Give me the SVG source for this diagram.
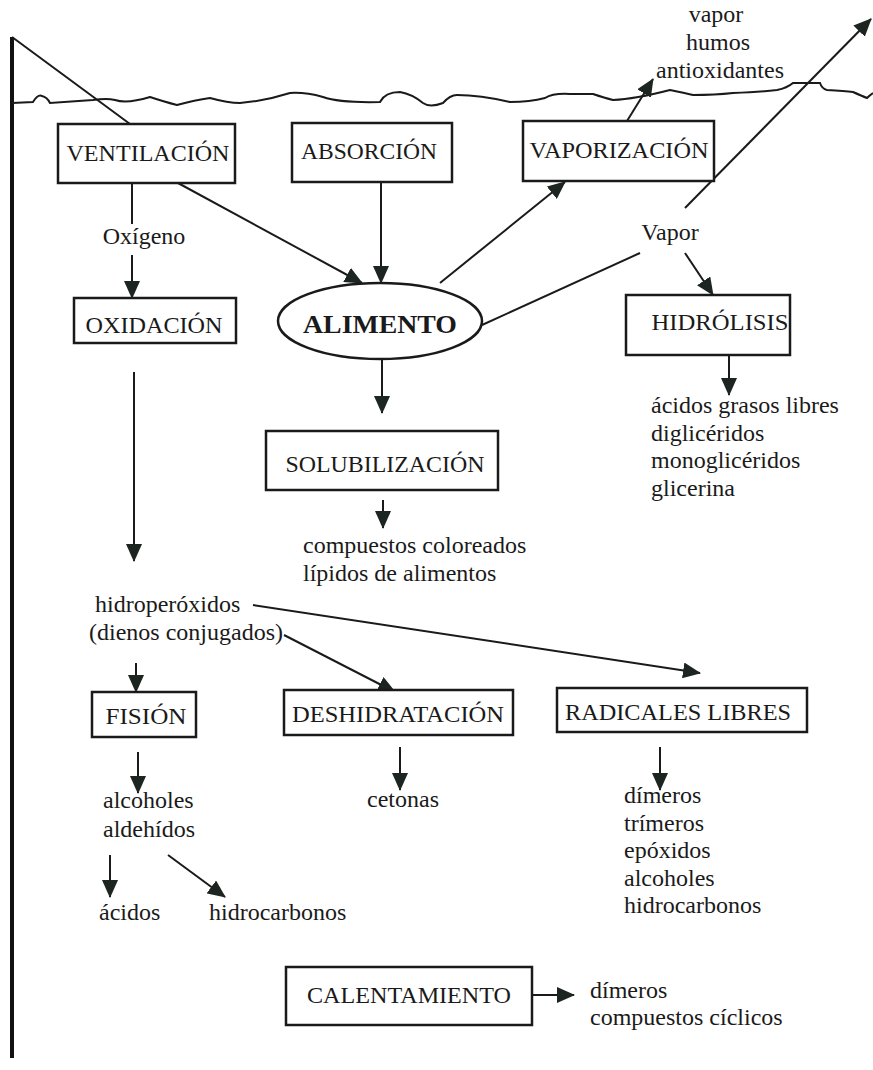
<svg xmlns="http://www.w3.org/2000/svg" width="873" height="1070" viewBox="0 0 873 1070">
<defs>
<style>
.box{fill:#fff;stroke:#1a1a1a;stroke-width:2.5}
.ln{fill:none;stroke:#1a1a1a;stroke-width:2}
.arr{fill:none;stroke:#1a1a1a;stroke-width:2;marker-end:url(#ah)}
text{font-family:"Liberation Serif","Times New Roman",serif;font-size:24px;fill:#1a1a1a}
.lbl{text-anchor:middle}
.bold{font-weight:bold;font-size:26px}
</style>
<marker id="ah" markerWidth="18" markerHeight="16" refX="17" refY="8" orient="auto" markerUnits="userSpaceOnUse">
<path d="M0,0 L18,8 L0,16 z" fill="#1c2520"/>
</marker>
</defs>
<rect width="873" height="1070" fill="#fff"/>

<g id="frame">
<line x1="12" y1="37" x2="12" y2="1058" stroke="#111" stroke-width="4"/>
<path class="ln" d="M12,103 L33,102 Q38,94 42,96 Q47,97 50,103 L93,100 Q107,98 115,100 Q127,104 150,97 Q165,102 177,105 Q195,100 210,98 Q228,103 240,103 Q265,101 290,93 Q305,92 323,97 Q340,103 380,102 Q385,92 400,92 Q412,94 423,103 Q430,108 443,103 Q450,95 457,95 Q480,95 510,102 Q530,102 545,98 Q553,93 570,94 L593,94 Q605,98 613,100 Q635,99 670,90 Q685,93 693,95 Q715,95 733,93 Q760,92 777,90 Q787,88 793,83 L820,83 Q822,89 827,90 Q845,91 853,92 Q862,96 867,98 Q870,95 873,93"/>
<line class="ln" x1="12" y1="37" x2="130" y2="124"/>
</g>

<g id="connectors">
<line class="ln" x1="132" y1="183" x2="132" y2="224"/>
<line class="arr" x1="132" y1="255" x2="132" y2="298"/>
<line class="arr" x1="178" y1="183" x2="362" y2="283"/>
<line class="arr" x1="381" y1="182" x2="381" y2="283"/>
<line class="arr" x1="440" y1="283" x2="565" y2="182"/>
<line class="arr" x1="627" y1="121" x2="653" y2="79"/>
<line class="arr" x1="685" y1="208" x2="871" y2="19"/>
<line class="ln" x1="482" y1="325" x2="640" y2="253"/>
<line class="arr" x1="685" y1="253" x2="713" y2="295"/>
<line class="arr" x1="729" y1="355" x2="729" y2="395"/>
<line class="arr" x1="382" y1="359" x2="382" y2="413"/>
<line class="arr" x1="383" y1="500" x2="383" y2="528"/>
<line class="arr" x1="134" y1="372" x2="134" y2="561"/>
<line class="arr" x1="253" y1="605" x2="700" y2="673"/>
<line class="arr" x1="284" y1="635" x2="395" y2="692"/>
<line class="arr" x1="136" y1="663" x2="136" y2="692"/>
<line class="arr" x1="138" y1="752" x2="138" y2="793"/>
<line class="arr" x1="400" y1="747" x2="400" y2="790"/>
<line class="arr" x1="660" y1="747" x2="660" y2="790"/>
<line class="arr" x1="110" y1="855" x2="110" y2="897"/>
<line class="arr" x1="168" y1="855" x2="225" y2="897"/>
<line class="arr" x1="532" y1="995" x2="574" y2="995"/>
</g>

<g id="ventilacion">
<rect class="box" x="58" y="124" width="177" height="59"/>
<text class="lbl" x="148" y="161" textLength="163" lengthAdjust="spacingAndGlyphs">VENTILACIÓN</text>
</g>
<g id="absorcion">
<rect class="box" x="292" y="123" width="160" height="59"/>
<text class="lbl" x="369" y="159" textLength="136" lengthAdjust="spacingAndGlyphs">ABSORCIÓN</text>
</g>
<g id="vaporizacion">
<rect class="box" x="523" y="121" width="191" height="60"/>
<text class="lbl" x="619" y="158" textLength="179" lengthAdjust="spacingAndGlyphs">VAPORIZACIÓN</text>
</g>
<g id="salida-vapor">
<text class="lbl" x="716" y="22">vapor</text>
<text class="lbl" x="718" y="50">humos</text>
<text class="lbl" x="720" y="78">antioxidantes</text>
</g>
<g id="oxigeno">
<text class="lbl" x="144" y="244">Oxígeno</text>
</g>
<g id="vapor">
<text class="lbl" x="670" y="240">Vapor</text>
</g>
<g id="oxidacion">
<rect class="box" x="74" y="298" width="162" height="45"/>
<text class="lbl" x="154" y="333" textLength="137" lengthAdjust="spacingAndGlyphs">OXIDACIÓN</text>
</g>
<g id="alimento">
<ellipse cx="380" cy="321" rx="102" ry="38" fill="#fff" stroke="#1a1a1a" stroke-width="2.5"/>
<text class="lbl bold" x="380" y="333" textLength="154" lengthAdjust="spacingAndGlyphs">ALIMENTO</text>
</g>
<g id="hidrolisis">
<rect class="box" x="626" y="295" width="164" height="60"/>
<text class="lbl" x="720" y="330" textLength="137" lengthAdjust="spacingAndGlyphs">HIDRÓLISIS</text>
</g>
<g id="productos-hidrolisis">
<text x="651" y="413">ácidos grasos libres</text>
<text x="651" y="441">diglicéridos</text>
<text x="651" y="468">monoglicéridos</text>
<text x="651" y="496">glicerina</text>
</g>
<g id="solubilizacion">
<rect class="box" x="266" y="431" width="232" height="59"/>
<text class="lbl" x="385" y="472" textLength="199" lengthAdjust="spacingAndGlyphs">SOLUBILIZACIÓN</text>
</g>
<g id="productos-solubilizacion">
<text x="303" y="553">compuestos coloreados</text>
<text x="303" y="581">lípidos de alimentos</text>
</g>
<g id="hidroperoxidos">
<text x="95" y="612">hidroperóxidos</text>
<text x="89" y="640">(dienos conjugados)</text>
</g>
<g id="fision">
<rect class="box" x="92" y="692" width="104" height="45"/>
<text class="lbl" x="146" y="724" textLength="81" lengthAdjust="spacingAndGlyphs">FISIÓN</text>
</g>
<g id="deshidratacion">
<rect class="box" x="284" y="690" width="229" height="45"/>
<text class="lbl" x="398" y="722" textLength="212" lengthAdjust="spacingAndGlyphs">DESHIDRATACIÓN</text>
</g>
<g id="radicales">
<rect class="box" x="557" y="688" width="250" height="44"/>
<text class="lbl" x="678" y="720" textLength="226" lengthAdjust="spacingAndGlyphs">RADICALES LIBRES</text>
</g>
<g id="productos-fision">
<text x="103" y="808">alcoholes</text>
<text x="103" y="837">aldehídos</text>
</g>
<g id="acidos"><text x="99" y="920">ácidos</text></g>
<g id="hidrocarbonos"><text x="209" y="920">hidrocarbonos</text></g>
<g id="cetonas"><text x="367" y="807">cetonas</text></g>
<g id="productos-radicales">
<text x="624" y="803">dímeros</text>
<text x="624" y="831">trímeros</text>
<text x="624" y="858">epóxidos</text>
<text x="624" y="886">alcoholes</text>
<text x="624" y="913">hidrocarbonos</text>
</g>
<g id="calentamiento">
<rect class="box" x="286" y="967" width="246" height="58"/>
<text class="lbl" x="409" y="1003" textLength="204" lengthAdjust="spacingAndGlyphs">CALENTAMIENTO</text>
</g>
<g id="productos-calentamiento">
<text x="590" y="998">dímeros</text>
<text x="590" y="1025">compuestos cíclicos</text>
</g>
</svg>
